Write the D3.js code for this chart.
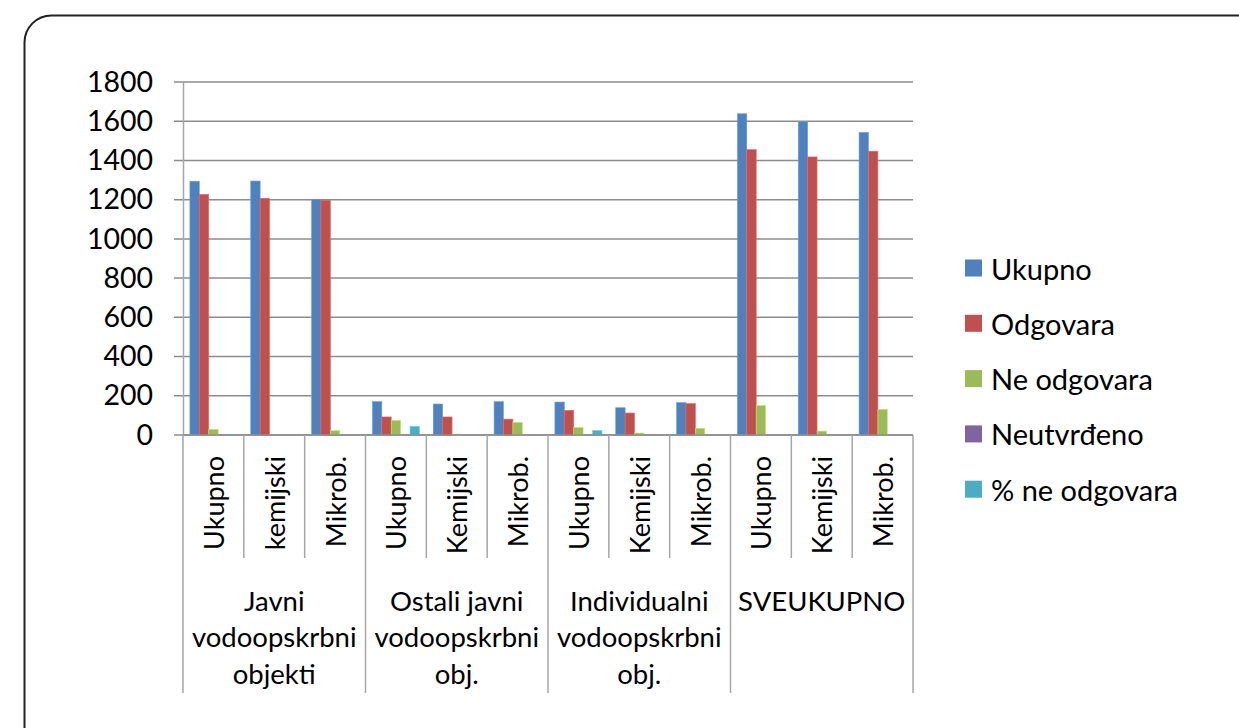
<!DOCTYPE html>
<html>
<head>
<meta charset="utf-8">
<script src="https://cdn.jsdelivr.net/npm/d3@7"></script>
<style>
body { margin: 0; background: #fff; }
text { font-family: Lato, "Liberation Sans", sans-serif; fill: #000; }
</style>
</head>
<body>
<svg id="chart" width="1239" height="728"></svg>
<script>
// kategorije (donja razina) i grupe (gornja razina)
var categories = ['Ukupno', 'kemijski', 'Mikrob.', 'Ukupno', 'Kemijski', 'Mikrob.',
                  'Ukupno', 'Kemijski', 'Mikrob.', 'Ukupno', 'Kemijski', 'Mikrob.'];
var groupLabels = [
  ['Javni', 'vodoopskrbni', 'objekti'],
  ['Ostali javni', 'vodoopskrbni', 'obj.'],
  ['Individualni', 'vodoopskrbni', 'obj.'],
  ['SVEUKUPNO']
];
var seriesNames = ['Ukupno', 'Odgovara', 'Ne odgovara', 'Neutvrđeno', '% ne odgovara'];
var seriesColors = ['#4F81BD', '#C0504D', '#9BBB59', '#8064A2', '#4BACC6'];

var ukupno     = [1294, 1295, 1202, 170, 158, 170, 168, 139, 165, 1638, 1597, 1543];
var odgovara   = [1227, 1207, 1197,  92,  92,  81, 126, 112, 160, 1455, 1418, 1447];
var neOdgovara = [  29,    0,   22,  75,   5,  64,  39,  10,  34,  151,   20,  131];
var neutvrdeno = [   0,    0,    0,   0,   0,   0,   0,   0,   0,    0,    0,    0];
var postoNe    = [   2,    0,    0,  44,   0,   0,  23,   0,   0,    0,    0,    0];
var seriesValues = [ukupno, odgovara, neOdgovara, neutvrdeno, postoNe];

var yTicks = [0, 200, 400, 600, 800, 1000, 1200, 1400, 1600, 1800];

var svg = d3.select('#chart');

// okvir oko grafa
svg.append('rect')
  .attr('x', 24.5).attr('y', 15.5)
  .attr('width', 1300).attr('height', 740)
  .attr('rx', 27).attr('ry', 27)
  .attr('fill', 'none')
  .attr('stroke', '#222')
  .attr('stroke-width', 2);

var pLeft = 183, pRight = 913, pTop = 82, pBottom = 435;

var x0 = d3.scaleBand()
  .domain(d3.range(categories.length))
  .range([pLeft, pRight])
  .padding(0);

var x1 = d3.scaleBand()
  .domain(d3.range(seriesNames.length))
  .range([0, x0.bandwidth()])
  .paddingInner(0)
  .paddingOuter(0.735);

var y = d3.scaleLinear()
  .domain([0, 1800])
  .range([pBottom, pTop]);

// mreza
svg.append('g')
  .selectAll('line')
  .data(yTicks)
  .enter().append('line')
  .attr('x1', pLeft - 9).attr('x2', pRight)
  .attr('y1', function(d) { return y(d); })
  .attr('y2', function(d) { return y(d); })
  .attr('stroke', '#8c8c8c')
  .attr('stroke-width', 1.5);

// y os
var yAxis = svg.append('g')
  .attr('transform', 'translate(' + pLeft + ',0)')
  .call(d3.axisLeft(y).tickValues(yTicks).tickSize(0).tickPadding(30).tickFormat(d3.format('d')));
yAxis.select('.domain').attr('stroke', '#a6a6a6').attr('stroke-width', 1.5);
yAxis.selectAll('text')
  .style('font-size', '28.5px')
  .attr('fill', '#000');

// stupci
var bars = svg.append('g');
seriesValues.forEach(function(vals, s) {
  bars.selectAll('rect.s' + s)
    .data(vals)
    .enter().append('rect')
    .attr('class', 's' + s)
    .attr('x', function(d, i) { return x0(i) + x1(s); })
    .attr('y', function(d) { return y(d); })
    .attr('width', x1.bandwidth())
    .attr('height', function(d) { return pBottom - y(d); })
    .attr('fill', seriesColors[s])
    .attr('stroke', d3.color(seriesColors[s]).brighter(0.6))
    .attr('stroke-width', 0.6);
});

// x os
svg.append('line')
  .attr('x1', pLeft).attr('x2', pRight)
  .attr('y1', pBottom).attr('y2', pBottom)
  .attr('stroke', '#8c8c8c').attr('stroke-width', 1.5);

var divs = d3.range(categories.length + 1);
svg.append('g')
  .selectAll('line')
  .data(divs)
  .enter().append('line')
  .attr('x1', function(d) { return d < categories.length ? x0(d) : pRight; })
  .attr('x2', function(d) { return d < categories.length ? x0(d) : pRight; })
  .attr('y1', pBottom)
  .attr('y2', function(d) { return d % 3 == 0 ? 693 : 558; })
  .attr('stroke', '#a6a6a6')
  .attr('stroke-width', 1.5);

// nazivi kategorija (rotirani)
svg.append('g')
  .selectAll('text')
  .data(categories)
  .enter().append('text')
  .attr('transform', function(d, i) {
    return 'translate(' + (x0(i) + x0.bandwidth() / 2) + ',' + 456 + ') rotate(-90)';
  })
  .attr('text-anchor', 'end')
  .attr('dominant-baseline', 'central')
  .style('font-size', '27px')
  .text(function(d) { return d; });

// nazivi grupa
var gw = x0.bandwidth() * 3;
var grp = svg.append('g')
  .selectAll('text')
  .data(groupLabels)
  .enter().append('text')
  .attr('text-anchor', 'middle')
  .style('font-size', '27.5px');
grp.selectAll('tspan')
  .data(function(d, i) { return d.map(function(line) { return { line: line, g: i }; }); })
  .enter().append('tspan')
  .attr('x', function(d) { return pLeft + d.g * gw + gw / 2; })
  .attr('y', function(d, j) { return 600 + j * 36.5; })
  .attr('dominant-baseline', 'central')
  .text(function(d) { return d.line; });

// legenda
var legend = svg.append('g')
  .selectAll('g')
  .data(seriesNames)
  .enter().append('g')
  .attr('transform', function(d, i) { return 'translate(965,' + (268 + i * 55.3) + ')'; });
legend.append('rect')
  .attr('x', 0).attr('y', -8.5)
  .attr('width', 17).attr('height', 17)
  .attr('fill', function(d, i) { return seriesColors[i]; });
legend.append('text')
  .attr('x', 26)
  .attr('dominant-baseline', 'central')
  .style('font-size', '29px')
  .text(function(d) { return d; });
</script>
</body>
</html>
